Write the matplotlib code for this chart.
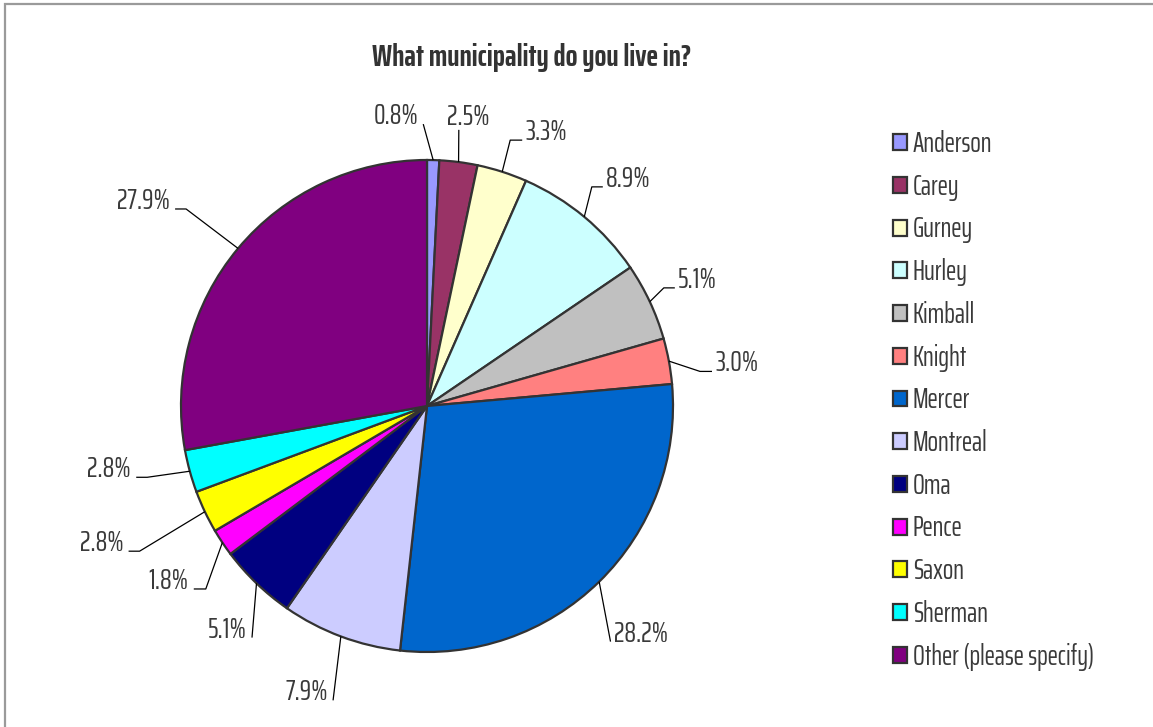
import numpy as np
import matplotlib
matplotlib.use("Agg")
import matplotlib.pyplot as plt
from matplotlib.patches import Patch, Rectangle

# ---------------- data ----------------
categories = ["Anderson", "Carey", "Gurney", "Hurley", "Kimball", "Knight", "Mercer",
              "Montreal", "Oma", "Pence", "Saxon", "Sherman", "Other (please specify)"]
percent = [0.8, 2.5, 3.3, 8.9, 5.1, 3.0, 28.2, 7.9, 5.1, 1.8, 2.8, 2.8, 27.9]
colors = ["#9999FF", "#993366", "#FFFFCC", "#CCFFFF", "#C0C0C0", "#FF8080", "#0066CC",
          "#CCCCFF", "#000080", "#FF00FF", "#FFFF00", "#00FFFF", "#800080"]
title = "What municipality do you live in?"

# ---------------- label layout (radius factor, angle offset from wedge middle) ----------------
label_r = [1.146, 1.130, 1.148, 1.142, 1.116, 1.167, 1.214, 1.256, 1.180, 1.205, 1.349, 1.217, 1.300]
label_dang = [2.2, 0.8, -1.9, 1.0, 0.4, -3.6, -6.5, 2.8, 6.8, 4.4, 0.5, -1.6, 1.8]
label_elbow_px = [0, 0, 12, 11, 11, 12, 0, 0, 0, 12, 11, 11, 11]
label_side = ["left", "above", "right", "right", "right", "right", "right",
              "left", "left", "left", "left", "left", "left"]

FONT = ["Saira ExtraCondensed", "DejaVu Sans"]
plt.rcParams["font.family"] = FONT
TXT = "#3a3a3a"
LABEL_FS = 21

W, H = 1153, 727
fig = plt.figure(figsize=(W / 100, H / 100), dpi=100)

# chart frame (gray border at top/left)
fig.patches.append(Rectangle((5 / W, -0.05), 1.2, 1 - 4 / H + 0.05, transform=fig.transFigure,
                             fill=False, edgecolor="#9a9a9a", linewidth=1.6, zorder=0))

# pie axes: centre at (427, 406) px, radius 246 px
CX, CY, RPX, HALF = 427, 406, 246, 300
ax = fig.add_axes([(CX - HALF) / W, (H - CY - HALF) / H, 2 * HALF / W, 2 * HALF / H])
wedges, _ = ax.pie(percent, colors=colors, startangle=90, counterclock=False,
                   wedgeprops=dict(edgecolor="#333333", linewidth=1.6, antialiased=True))
lim = HALF / RPX
ax.set_xlim(-lim, lim)
ax.set_ylim(-lim, lim)
ax.set_aspect("equal")
ax.axis("off")
px = 1.0 / RPX

for w, p, r, da, el, side in zip(wedges, percent, label_r, label_dang, label_elbow_px, label_side):
    mid = np.deg2rad((w.theta1 + w.theta2) / 2.0)
    x0, y0 = np.cos(mid), np.sin(mid)
    ang = mid + np.deg2rad(da)
    ex, ey = r * np.cos(ang), r * np.sin(ang)
    txt = f"{p:.1f}%"
    if side == "right":
        xs = [x0, ex - el * px, ex]
        ys = [y0, ey, ey]
        ax.text(ex + 3 * px, ey, txt, ha="left", va="baseline", fontsize=LABEL_FS,
                color=TXT, clip_on=False)
    elif side == "left":
        xs = [x0, ex + el * px, ex]
        ys = [y0, ey, ey]
        ax.text(ex - 5 * px, ey, txt, ha="right", va="baseline", fontsize=LABEL_FS,
                color=TXT, clip_on=False)
    else:
        xs = [x0, ex]
        ys = [y0, ey]
        ax.text(ex - 12 * px, ey + 5 * px, txt, ha="left", va="baseline", fontsize=LABEL_FS,
                color=TXT, clip_on=False)
    ax.plot(xs, ys, color="black", linewidth=0.9, clip_on=False, solid_capstyle="butt")

fig.text(532 / W, 1 - 57 / H, title, ha="center", va="center", fontsize=22.5,
         fontweight="bold", color="#333333")

handles = [Patch(facecolor=c, edgecolor="#333333", linewidth=1.6) for c in colors]
leg = fig.legend(handles, categories, loc="upper left", bbox_to_anchor=(893 / W, 1 - 130 / H),
                 frameon=False, fontsize=20, handlelength=0.5, handleheight=0.5,
                 handletextpad=0.22, labelspacing=0.53, borderaxespad=0, borderpad=0)
for t in leg.get_texts():
    t.set_color(TXT)

fig.savefig("out.png", dpi=100, facecolor="white")
